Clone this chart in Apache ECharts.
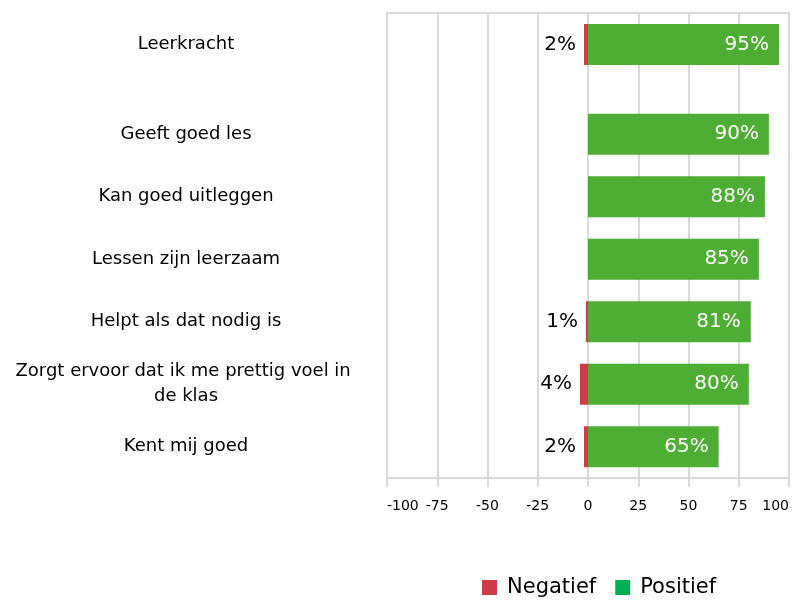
<!DOCTYPE html>
<html>
<head>
<meta charset="utf-8">
<script src="https://cdn.jsdelivr.net/npm/echarts@6/dist/echarts.min.js"></script>
<style>
    html, body { margin: 0; padding: 0; background: #fff; }
    #chart { width: 798px; height: 602px; }
</style>
</head>
<body>
<div id="chart"></div>
<script>
// data (percentages)
const categories = [
    'Leerkracht',
    'Geeft goed les',
    'Kan goed uitleggen',
    'Lessen zijn leerzaam',
    'Helpt als dat nodig is',
    'Zorgt ervoor dat ik me prettig voel in de klas',
    'Kent mij goed'
];
const negatief = [-2, 0, 0, 0, -1, -4, -2];
const positief = [95, 90, 88, 85, 81, 80, 65];
const xTicks = { min: -100, max: 100, interval: 25 };

const RED = '#CF3B47';
const GREEN = '#4EAD33';
const FONT = 'DejaVu Sans';

const pct = p => p.value ? Math.abs(p.value) + '%' : '';

const myChart = echarts.init(document.getElementById('chart'));

// grid 0 = frame + x axis, grid 1 = top row (Leerkracht), grid 2 = the rest
const grids = [
    { left: 387, width: 402, top: 13, height: 465, show: true, borderColor: '#d9d9d9', borderWidth: 2 },
    { left: 387, width: 402, top: 13, height: 63 },
    { left: 387, width: 402, top: 103, height: 375 }
];

const hiddenX = idx => ({
    type: 'value', gridIndex: idx, min: xTicks.min, max: xTicks.max, interval: xTicks.interval, show: false
});

const catY = (idx, data) => ({
    type: 'category',
    gridIndex: idx,
    inverse: true,
    data: data,
    axisLine: { show: false },
    axisTick: { show: false },
    axisLabel: {
        margin: 201,
        align: 'center',
        width: 360,
        overflow: 'break',
        fontSize: 18,
        lineHeight: 25,
        color: '#000',
        fontFamily: FONT
    }
});

const barPair = (idx, from, to) => [
    {
        name: 'Negatief',
        type: 'bar',
        xAxisIndex: idx,
        yAxisIndex: idx,
        stack: 'g' + idx,
        barWidth: 41,
        itemStyle: { color: RED },
        label: {
            show: true, position: 'left', distance: 8, formatter: pct,
            fontSize: 20, color: '#000', fontFamily: FONT
        },
        data: negatief.slice(from, to)
    },
    {
        name: 'Positief',
        type: 'bar',
        xAxisIndex: idx,
        yAxisIndex: idx,
        stack: 'g' + idx,
        barWidth: 41,
        itemStyle: { color: GREEN },
        label: {
            show: true, position: 'insideRight', distance: 10, formatter: pct,
            fontSize: 20, color: '#fff', fontFamily: FONT
        },
        data: positief.slice(from, to)
    }
];

myChart.setOption({
    animation: false,
    backgroundColor: '#fff',
    grid: grids,
    xAxis: [
        {
            type: 'value',
            gridIndex: 0,
            min: xTicks.min,
            max: xTicks.max,
            interval: xTicks.interval,
            axisLine: { show: true, lineStyle: { color: '#d9d9d9', width: 2 } },
            axisTick: { show: true, length: 9, lineStyle: { color: '#d9d9d9', width: 2 } },
            splitLine: { show: true, lineStyle: { color: '#d9d9d9', width: 2 } },
            axisLabel: {
                margin: 21, fontSize: 14, color: '#000', fontFamily: FONT,
                alignMinLabel: 'left', alignMaxLabel: 'right'
            }
        },
        hiddenX(1),
        hiddenX(2)
    ],
    yAxis: [
        { type: 'value', gridIndex: 0, show: false },
        catY(1, categories.slice(0, 1)),
        catY(2, categories.slice(1))
    ],
    legend: {
        data: [
            { name: 'Negatief', itemStyle: { color: RED } },
            { name: 'Positief', itemStyle: { color: '#00B050' } }
        ],
        left: 482,
        top: 577,
        padding: 0,
        icon: 'rect',
        itemWidth: 15,
        itemHeight: 15,
        itemGap: 19,
        textStyle: { fontSize: 21, color: '#000', fontFamily: FONT, padding: [0, 0, 0, 5] }
    },
    series: [].concat(barPair(1, 0, 1), barPair(2, 1, categories.length))
});
</script>
</body>
</html>
